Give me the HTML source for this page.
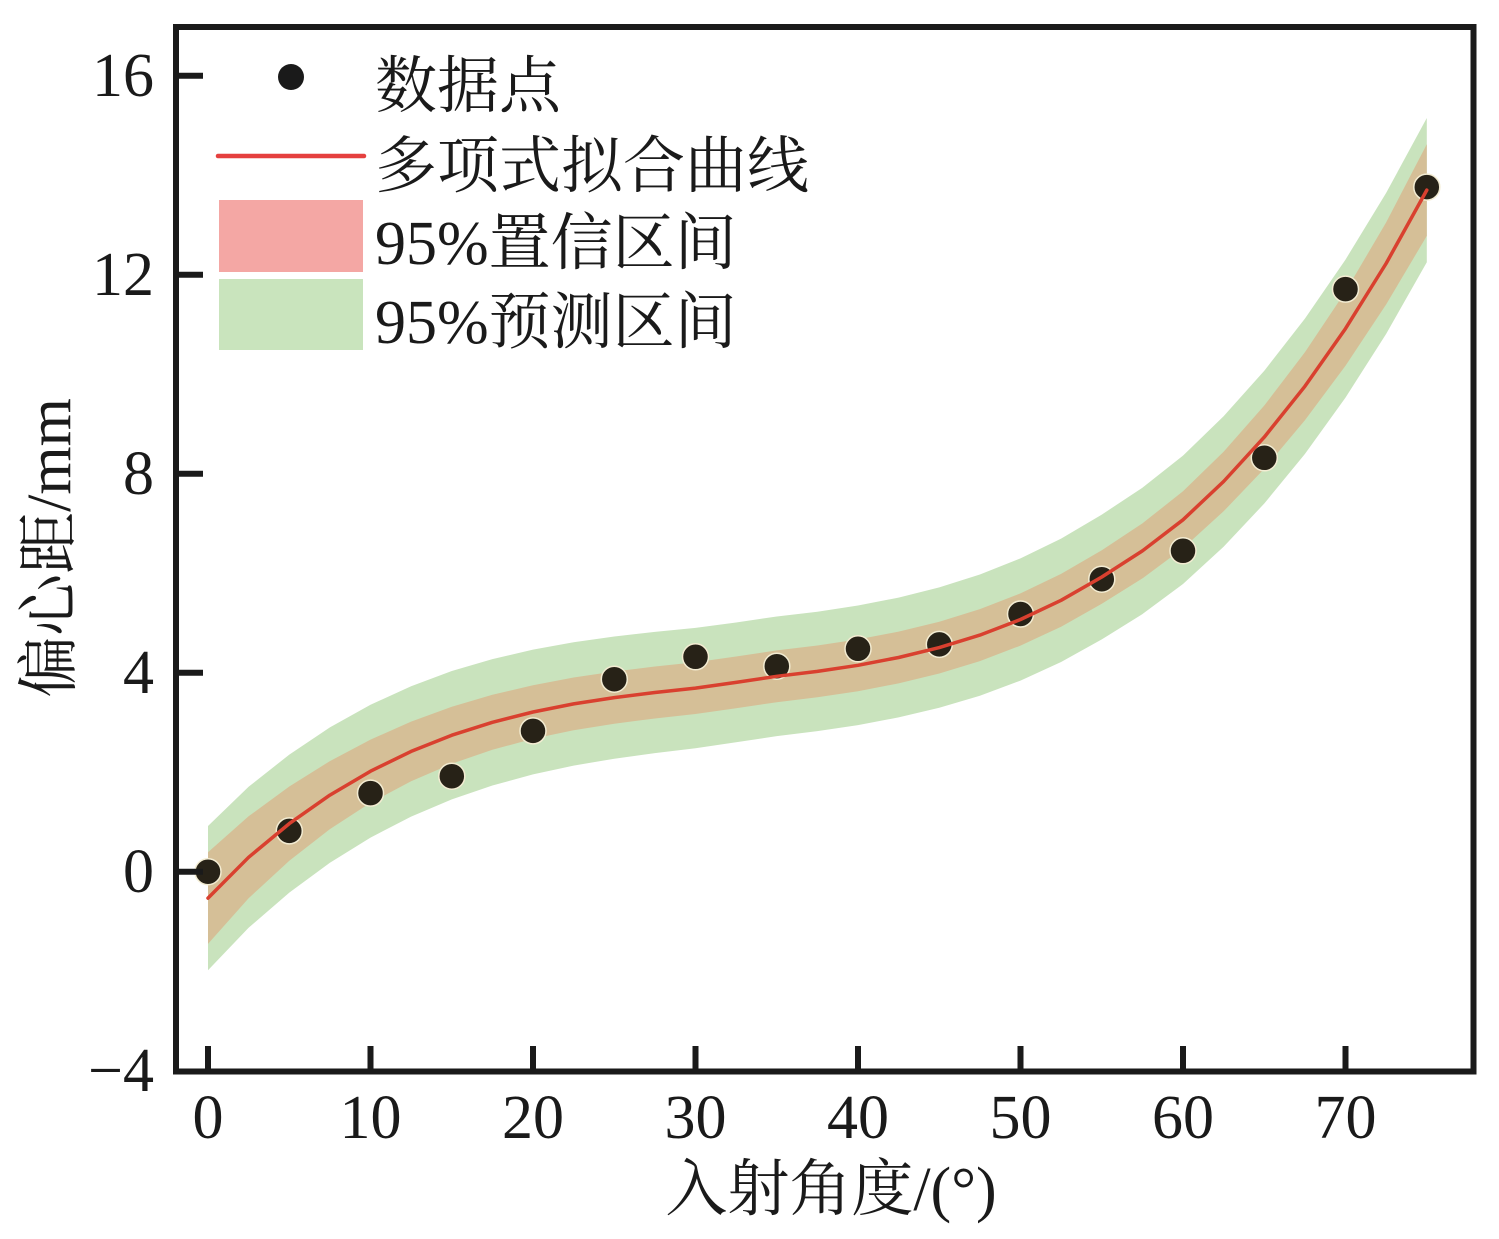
<!DOCTYPE html>
<html>
<head>
<meta charset="utf-8">
<style>
  html,body{margin:0;padding:0;background:#fff;}
  svg{display:block;}
  text{font-family:"Liberation Serif","Noto Serif CJK SC",serif;fill:#1a1a1a;}
</style>
</head>
<body>
<svg width="1499" height="1239" viewBox="0 0 1499 1239" xmlns="http://www.w3.org/2000/svg">
  <rect x="0" y="0" width="1499" height="1239" fill="#ffffff"/>

  <!-- 95% prediction band -->
  <polygon fill="#c9e3bd" points="208,826.0 248.6,786.8 289.3,754.6 329.9,727.4 370.5,704.8 411.1,686.2 451.8,671.0 492.4,659.1 533,649.6 573.6,642.2 614.3,636.5 654.9,631.9 695.5,627.9 736.1,622.5 776.8,616.5 817.4,611.7 858,605.5 898.6,597.6 939.3,587.4 979.9,574.5 1020.5,558.4 1061.1,538.6 1101.8,514.6 1142.4,487.7 1183,455.6 1223.6,416.3 1264.3,370.7 1304.9,318.6 1345.5,259.6 1386.1,193.0 1426.8,118.0 1426.8,262.2 1386.1,334.0 1345.5,397.6 1304.9,454.0 1264.3,503.5 1223.6,546.7 1183,584.0 1142.4,614.1 1101.8,639.4 1061.1,662.0 1020.5,680.6 979.9,695.7 939.3,707.8 898.6,717.4 858,725.1 817.4,731.1 776.8,736.1 736.1,742.3 695.5,748.3 654.9,753.1 614.3,758.7 573.6,765.6 533,774.4 492.4,785.5 451.8,799.4 411.1,816.6 370.5,837.6 329.9,862.8 289.3,892.6 248.6,927.8 208,970.2"/>

  <!-- 95% confidence band -->
  <polygon fill="#d5bf97" points="208,852.3 248.6,816.3 289.3,786.5 329.9,761.1 370.5,739.6 411.1,721.6 451.8,706.7 492.4,694.8 533,685.2 573.6,677.5 614.3,671.5 654.9,666.5 695.5,662.2 736.1,656.5 776.8,650.4 817.4,645.5 858,639.4 898.6,631.6 939.3,621.7 979.9,609.1 1020.5,593.4 1061.1,573.9 1101.8,550.2 1142.4,523.4 1183,491.3 1223.6,451.7 1264.3,405.5 1304.9,352.3 1345.5,291.5 1386.1,222.5 1426.8,144.3 1426.8,235.9 1386.1,304.5 1345.5,365.7 1304.9,420.3 1264.3,468.7 1223.6,511.3 1183,548.3 1142.4,578.4 1101.8,603.8 1061.1,626.7 1020.5,645.6 979.9,661.1 939.3,673.5 898.6,683.4 858,691.2 817.4,697.3 776.8,702.2 736.1,708.3 695.5,714.0 654.9,718.5 614.3,723.7 573.6,730.3 533,738.8 492.4,749.8 451.8,763.7 411.1,781.2 370.5,802.8 329.9,829.1 289.3,860.7 248.6,898.3 208,943.9"/>

  <!-- data points -->
  <g fill="#272217" stroke="#f3ecd2" stroke-width="1.5">
    <circle cx="208" cy="871.7" r="13"/>
    <circle cx="289.3" cy="830.9" r="13"/>
    <circle cx="370.5" cy="793.1" r="13"/>
    <circle cx="451.8" cy="776.2" r="13"/>
    <circle cx="533" cy="730.9" r="13"/>
    <circle cx="614.3" cy="679.2" r="13"/>
    <circle cx="695.5" cy="656.8" r="13"/>
    <circle cx="776.8" cy="666.2" r="13"/>
    <circle cx="858" cy="648.8" r="13"/>
    <circle cx="939.3" cy="644.4" r="13"/>
    <circle cx="1020.5" cy="614.0" r="13"/>
    <circle cx="1101.8" cy="579.2" r="13"/>
    <circle cx="1183" cy="550.8" r="13"/>
    <circle cx="1264.3" cy="457.8" r="13"/>
    <circle cx="1345.5" cy="289.1" r="13"/>
    <circle cx="1426.8" cy="187.1" r="13"/>
  </g>

  <!-- fitted curve -->
  <polyline fill="none" stroke="#d9402f" stroke-width="3.5" stroke-linejoin="round" stroke-linecap="round" points="208,898.1 248.6,857.3 289.3,823.6 329.9,795.1 370.5,771.2 411.1,751.4 451.8,735.2 492.4,722.3 533,712.0 573.6,703.9 614.3,697.6 654.9,692.5 695.5,688.1 736.1,682.4 776.8,676.3 817.4,671.4 858,665.3 898.6,657.5 939.3,647.6 979.9,635.1 1020.5,619.5 1061.1,600.3 1101.8,577.0 1142.4,550.9 1183,519.8 1223.6,481.5 1264.3,437.1 1304.9,386.3 1345.5,328.6 1386.1,263.5 1426.8,190.1"/>

  <!-- frame -->
  <rect x="176" y="27" width="1297.5" height="1044.5" fill="none" stroke="#1a1a1a" stroke-width="6"/>

  <!-- y ticks -->
  <g stroke="#1a1a1a" stroke-width="6">
    <line x1="176" y1="871.7" x2="203" y2="871.7"/>
    <line x1="176" y1="672.7" x2="203" y2="672.7"/>
    <line x1="176" y1="473.7" x2="203" y2="473.7"/>
    <line x1="176" y1="274.7" x2="203" y2="274.7"/>
    <line x1="176" y1="75.7" x2="203" y2="75.7"/>
  </g>
  <!-- x ticks -->
  <g stroke="#1a1a1a" stroke-width="6">
    <line x1="208" y1="1071" x2="208" y2="1046"/>
    <line x1="370.5" y1="1071" x2="370.5" y2="1046"/>
    <line x1="533" y1="1071" x2="533" y2="1046"/>
    <line x1="695.5" y1="1071" x2="695.5" y2="1046"/>
    <line x1="858" y1="1071" x2="858" y2="1046"/>
    <line x1="1020.5" y1="1071" x2="1020.5" y2="1046"/>
    <line x1="1183" y1="1071" x2="1183" y2="1046"/>
    <line x1="1345.5" y1="1071" x2="1345.5" y2="1046"/>
  </g>

  <!-- y tick labels -->
  <g font-size="62" text-anchor="end">
    <text x="154" y="96">16</text>
    <text x="154" y="295">12</text>
    <text x="154" y="494">8</text>
    <text x="154" y="693">4</text>
    <text x="154" y="892">0</text>
    <text x="154" y="1091">−4</text>
  </g>
  <!-- x tick labels -->
  <g font-size="62" text-anchor="middle">
    <text x="208" y="1138">0</text>
    <text x="370.5" y="1138">10</text>
    <text x="533" y="1138">20</text>
    <text x="695.5" y="1138">30</text>
    <text x="858" y="1138">40</text>
    <text x="1020.5" y="1138">50</text>
    <text x="1183" y="1138">60</text>
    <text x="1345.5" y="1138">70</text>
  </g>

  <!-- axis labels -->
  <text x="831" y="1210" font-size="62" text-anchor="middle">入射角度/(°)</text>
  <text transform="translate(70,548) rotate(-90)" font-size="62" text-anchor="middle">偏心距/mm</text>

  <!-- legend -->
  <circle cx="291" cy="77" r="13" fill="#1a1a1a"/>
  <line x1="218" y1="156" x2="364" y2="156" stroke="#e5403f" stroke-width="4.5" stroke-linecap="round"/>
  <rect x="219" y="200" width="144" height="72" fill="#f4a7a4"/>
  <rect x="219" y="279" width="144" height="71" fill="#c9e4bd"/>
  <g font-size="62">
    <text x="375" y="107">数据点</text>
    <text x="375" y="187">多项式拟合曲线</text>
    <text x="375" y="264">95%置信区间</text>
    <text x="375" y="343">95%预测区间</text>
  </g>
</svg>
</body>
</html>
